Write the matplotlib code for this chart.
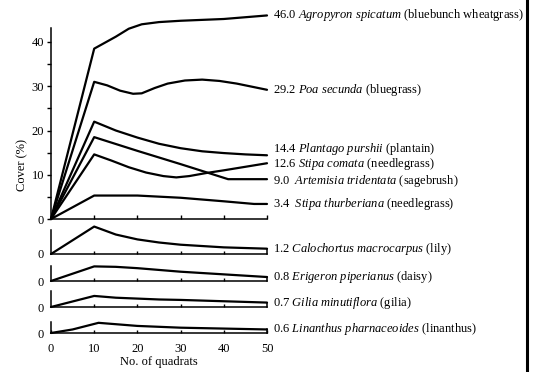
import numpy as np
import matplotlib.pyplot as plt
from matplotlib.lines import Line2D

plt.rcParams['font.family'] = ['Liberation Serif', 'DejaVu Serif']
plt.rcParams['mathtext.fontset'] = 'custom'
plt.rcParams['mathtext.rm'] = 'Liberation Serif'
plt.rcParams['mathtext.it'] = 'Liberation Serif:italic'

# ---- data (cover % vs number of quadrats) ----
agro_x = [0, 10, 15, 18, 21, 25, 30, 40, 50]
agro_y = [0, 38.5, 41.2, 43.0, 44.0, 44.5, 44.8, 45.2, 46.0]
poa_x = [0, 10, 13, 16, 19, 21, 24, 27, 31, 35, 39, 43, 47, 50]
poa_y = [0, 31.0, 30.2, 29.0, 28.3, 28.4, 29.6, 30.6, 31.3, 31.5, 31.2, 30.6, 29.8, 29.2]
plan_x = [0, 10, 15, 20, 25, 30, 35, 40, 45, 50]
plan_y = [0, 22.0, 20.0, 18.4, 17.0, 16.0, 15.3, 14.9, 14.6, 14.4]
comata_x = [0, 10, 14, 18, 22, 26, 29, 32, 36, 40, 45, 50]
comata_y = [0, 14.6, 13.2, 11.7, 10.5, 9.7, 9.4, 9.7, 10.4, 11.0, 11.8, 12.6]
art_x = [0, 10, 20, 30, 41, 50]
art_y = [0, 18.5, 15.4, 12.4, 9.0, 9.0]
thurb_x = [0, 10, 20, 30, 40, 47, 50]
thurb_y = [0, 5.3, 5.3, 4.8, 4.0, 3.4, 3.4]

main_series = [
    (agro_x, agro_y, '46.0', 'Agropyron spicatum', 'bluebunch wheatgrass'),
    (poa_x, poa_y, '29.2', 'Poa secunda', 'bluegrass'),
    (plan_x, plan_y, '14.4', 'Plantago purshii', 'plantain'),
    (comata_x, comata_y, '12.6', 'Stipa comata', 'needlegrass'),
    (art_x, art_y, '9.0 ', 'Artemisia tridentata', 'sagebrush'),
    (thurb_x, thurb_y, '3.4 ', 'Stipa thurberiana', 'needlegrass'),
]
main_nudge = [0, 0, 6, -1, -2, 0]  # label offsets in pixels

small_x = [0, 10, 15, 20, 25, 30, 40, 50]
calo_y = [0, 6.2, 4.4, 3.3, 2.6, 2.1, 1.5, 1.2]
erig_y = [0, 3.3, 3.2, 2.9, 2.5, 2.1, 1.5, 0.9]
gilia_y = [0, 2.5, 2.1, 1.9, 1.7, 1.6, 1.3, 1.0]
lin_x = [0, 5, 11, 20, 30, 40, 50]
lin_y = [0, 0.8, 2.3, 1.6, 1.2, 1.0, 0.8]

small_series = [
    (small_x, calo_y, '1.2', 'Calochortus macrocarpus', 'lily'),
    (small_x, erig_y, '0.8', 'Erigeron piperianus', 'daisy'),
    (small_x, gilia_y, '0.7', 'Gilia minutiflora', 'gilia'),
    (lin_x, lin_y, '0.6', 'Linanthus pharnaceoides', 'linanthus'),
]

# ---- layout (pixels) ----
W, H = 539, 372
PX = 4.425            # pixels per cover unit
LEFT, RIGHT = 51, 267
small_base = [254, 281, 307, 333]
small_top = [5.4, 3.4, 3.7, 2.4]
LW = 1.6
FS = 9


def box(bottom_px, top_px):
    return [LEFT / W, (H - bottom_px) / H, (RIGHT - LEFT) / W, (bottom_px - top_px) / H]


def label(val, name, common):
    name = name.replace(' ', r'\ ')
    return val + ' $\\it{' + name + '}$ (' + common + ')'


fig = plt.figure(figsize=(W / 100, H / 100), dpi=100)

# main panel
ax = fig.add_axes(box(219, 28))
ax.set_xlim(0, 50)
ax.set_ylim(0, (219 - 28) / PX)
for (x, y, v, n, c), dy in zip(main_series, main_nudge):
    ax.plot(x, y, color='black', lw=LW, clip_on=False,
            solid_joinstyle='round', solid_capstyle='round')
    ax.annotate(label(v, n, c), xy=(x[-1], y[-1]), xytext=(4, dy * 0.72),
                textcoords='offset points', va='center', ha='left',
                fontsize=FS, annotation_clip=False)
ax.spines[['top', 'right']].set_visible(False)
ax.spines[['left', 'bottom']].set_linewidth(1.1)
ax.set_yticks(np.arange(0, 45, 5))
ax.set_yticklabels(['0', '', '10', '', '20', '', '30', '', '40'])
ax.set_xticks([10, 20, 30, 40, 50])
ax.tick_params(axis='x', direction='in', length=3, width=1, labelbottom=False)
ax.tick_params(axis='y', direction='out', length=3, width=1, pad=2, labelsize=FS)
fig.text(22 / W, 1 - 165 / H, 'Cover (%)', rotation=90, ha='center', va='center', fontsize=FS)

# small panels
for i, ((x, y, v, n, c), base, top) in enumerate(zip(small_series, small_base, small_top)):
    sa = fig.add_axes(box(base, base - top * PX))
    sa.set_xlim(0, 50)
    sa.set_ylim(0, top)
    sa.plot(x, y, color='black', lw=LW, clip_on=False,
            solid_joinstyle='round', solid_capstyle='round')
    sa.plot([x[-1], x[-1]], [0, y[-1]], color='black', lw=1.1, clip_on=False)
    sa.annotate(label(v, n, c), xy=(x[-1], y[-1]), xytext=(4, 0),
                textcoords='offset points', va='center', ha='left',
                fontsize=FS, annotation_clip=False)
    sa.spines[['top', 'right']].set_visible(False)
    sa.spines[['left', 'bottom']].set_linewidth(1.1)
    sa.set_yticks([0])
    sa.tick_params(axis='y', length=0, pad=5, labelsize=FS)
    last = i == len(small_series) - 1
    sa.set_xticks([0, 10, 20, 30, 40, 50] if last else [10, 20, 30, 40])
    sa.tick_params(axis='x', direction='in', length=2.5, width=1, pad=7,
                   labelsize=FS, labelbottom=last)
    if last:
        sa.set_xlabel('No. of quadrats', fontsize=FS, labelpad=1)

fig.add_artist(Line2D([527 / W, 527 / W], [0, 1], color='black', lw=2.2))

fig.savefig('out.png', dpi=100)
